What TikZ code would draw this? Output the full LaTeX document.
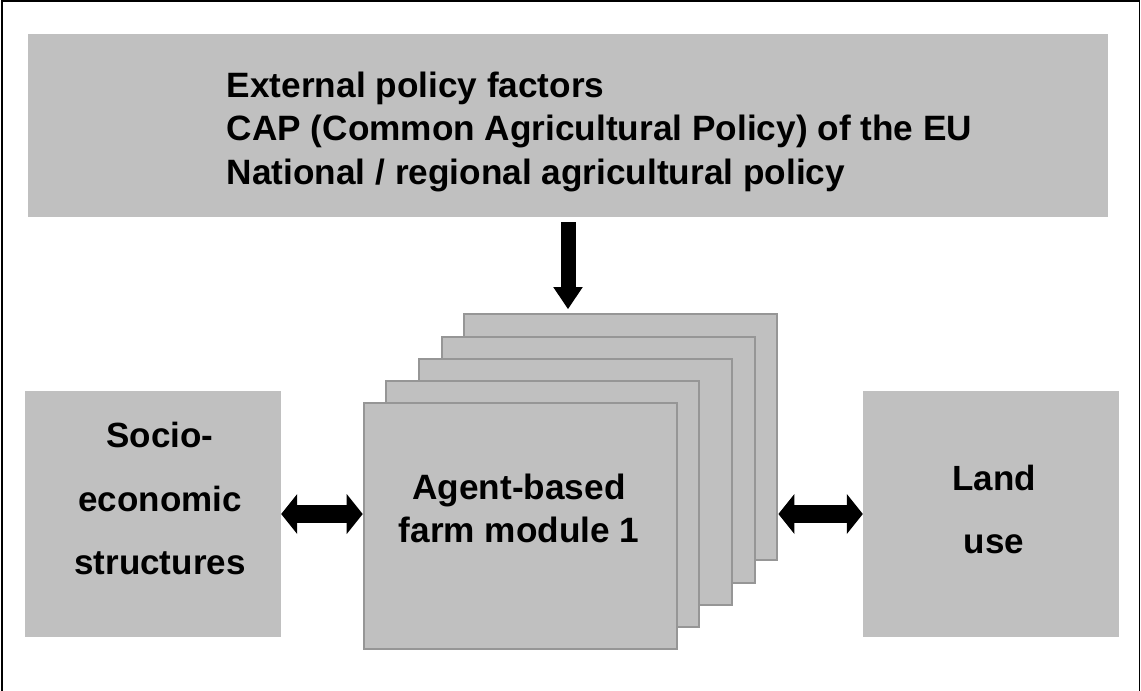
\documentclass[tikz,border=0pt]{standalone}
\usepackage{fontspec}
\setmainfont{Liberation Sans}
\usetikzlibrary{arrows.meta}
\definecolor{panelgray}{RGB}{192,192,192}
\definecolor{cardedge}{RGB}{150,150,150}

\begin{document}
\begin{tikzpicture}[x=1pt,y=-1pt,
  panel/.style={fill=panelgray,draw=none,inner sep=0pt,minimum width=256pt,minimum height=246pt},
  card/.style={fill=panelgray,draw=cardedge,line width=2pt,inner sep=0pt,minimum width=313pt,minimum height=246pt,anchor=north west},
  caption/.style={font=\bfseries\fontsize{35.2pt}{43.4pt}\selectfont,align=center,inner sep=0pt},
  spaced/.style={font=\bfseries\fontsize{35pt}{63.5pt}\selectfont},
  fat/.style={line width=15pt,-{Triangle[width=29.6pt,length=22pt,line width=0pt]}},
  twoway/.style={line width=18pt,{Triangle[width=40pt,length=16pt,line width=0pt]}-{Triangle[width=40pt,length=16pt,line width=0pt]}}]
\useasboundingbox (0,0) rectangle (1141,691);
\draw [line width=1.5pt] (2,691) -- (2,1.2) -- (1139.5,1.2) -- (1139.5,691);
\node [panel,minimum width=1080pt,minimum height=183pt] (policy) at (568,125.5) {};
\node [caption,align=left,anchor=north west] (policytxt) at (226.7,71.8) {External policy factors\\CAP (Common Agricultural Policy) of the EU\\National / regional agricultural policy};
\node [panel] (socio) at (153,514) {};
\node [caption,spaced,anchor=north] (sociotxt) at (160,422.3) {Socio-\\economic\\structures};
\node [panel] (land) at (991,514) {};
\node [caption,spaced,anchor=north] (landtxt) at (994,464.8) {Land\\use};
% farm modules, back one first
\foreach \i/\x/\y in {5/463.4/313,4/441/336,3/418.4/358,2/385/380,1/362.7/402}
  \node [card] (farm\i) at (\x,\y) {};
\node [caption,anchor=north] (farmtxt) at (519,473.3) {Agent-based\\farm module 1};
\draw [fat,shorten <=5pt,shorten >=4pt] (policy.south) -- (policy.south |- farm5.north);
\draw [twoway] (socio.east) -- (socio.east -| farm1.west);
\draw [twoway] (land.west -| farm5.east) -- (land.west);
\end{tikzpicture}
\end{document}
